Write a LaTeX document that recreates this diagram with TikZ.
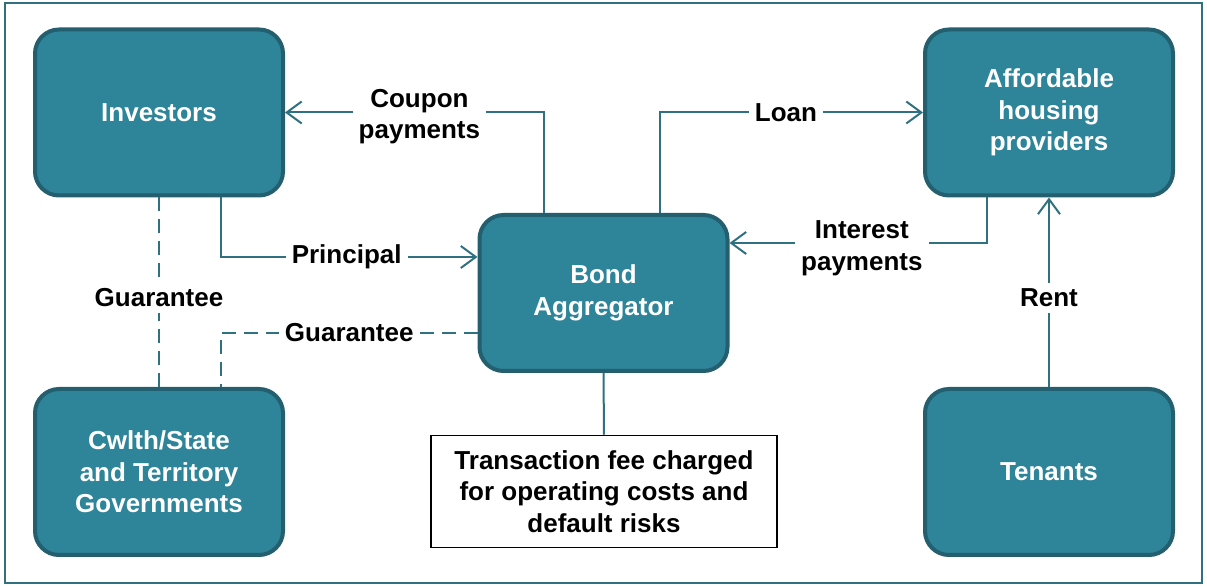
\documentclass[tikz,border=0pt]{standalone}
\usepackage{fontspec}
\setmainfont{Liberation Sans}
\usetikzlibrary{arrows.meta}

\definecolor{boxfill}{HTML}{2E8499}
\definecolor{boxline}{HTML}{235F6E}
\definecolor{flowline}{HTML}{2F7180}

\begin{document}
\begin{tikzpicture}[x=0.5pt,y=-0.5pt,
    font=\fontsize{13}{15.8}\selectfont\bfseries,
    box/.style={rectangle,rounded corners=12pt,draw=boxline,fill=boxfill,
      line width=2pt,text=white,align=center,
      minimum width=124pt,minimum height=83pt},
    lbl/.style={fill=white,inner sep=3pt,align=center,text=black},
    flow/.style={draw=flowline,line width=1pt,
      -{Straight Barb[length=7.5pt,width=11pt]}},
    guar/.style={draw=flowline,line width=1pt,dash pattern=on 7pt off 4pt}]

  \useasboundingbox (0,0) rectangle (1207,587);
  \draw[flowline,line width=1pt] (5,3) rectangle (1202,583);

  \begin{scope}[every node/.style={box}]
    \node (inv)  at (159,112.5) {Investors};
    \node (aff)  at (1049,112.5) {Affordable\\housing\\providers};
    \node[minimum height=78pt] (bond) at (603.5,293) {Bond\\Aggregator};
    \node (cw)   at (159,472) {Cwlth/State\\and Territory\\Governments};
    \node (ten)  at (1049,472) {Tenants};
  \end{scope}

  \node[draw=black,line width=0.75pt,align=center,
    minimum width=173pt,minimum height=56pt] (fee) at (604,491.5)
    {Transaction fee charged\\for operating costs and\\default risks};

  % money flows
  \path[flow] ([xshift=-30pt]bond.north) |- node[lbl,pos=0.74,yshift=-2pt] {Coupon\\payments} (inv.east);
  \path[flow] ([xshift=28pt]bond.north) |- node[lbl,pos=0.74] {Loan} (aff.west);
  \path[flow] ([xshift=31pt]inv.south) |- node[lbl,pos=0.745] {Principal} ([yshift=18pt]bond.west);
  \path[flow] ([xshift=-31pt]aff.south) |- node[lbl,pos=0.743,yshift=-2.5pt] {Interest\\payments} ([yshift=25pt]bond.east);
  \path[flow] (ten) -- node[lbl,pos=0.47] {Rent} (aff);

  % guarantees
  \path[guar] (inv.south) -- node[lbl,pos=0.53] {Guarantee} (cw.north);
  \path[guar] ([yshift=-20pt]bond.west) -| node[lbl,pos=0.25] {Guarantee} ([xshift=31pt]cw.north);

  \draw[flowline,line width=1pt] (bond.south) -- (fee.north);

\end{tikzpicture}
\end{document}
